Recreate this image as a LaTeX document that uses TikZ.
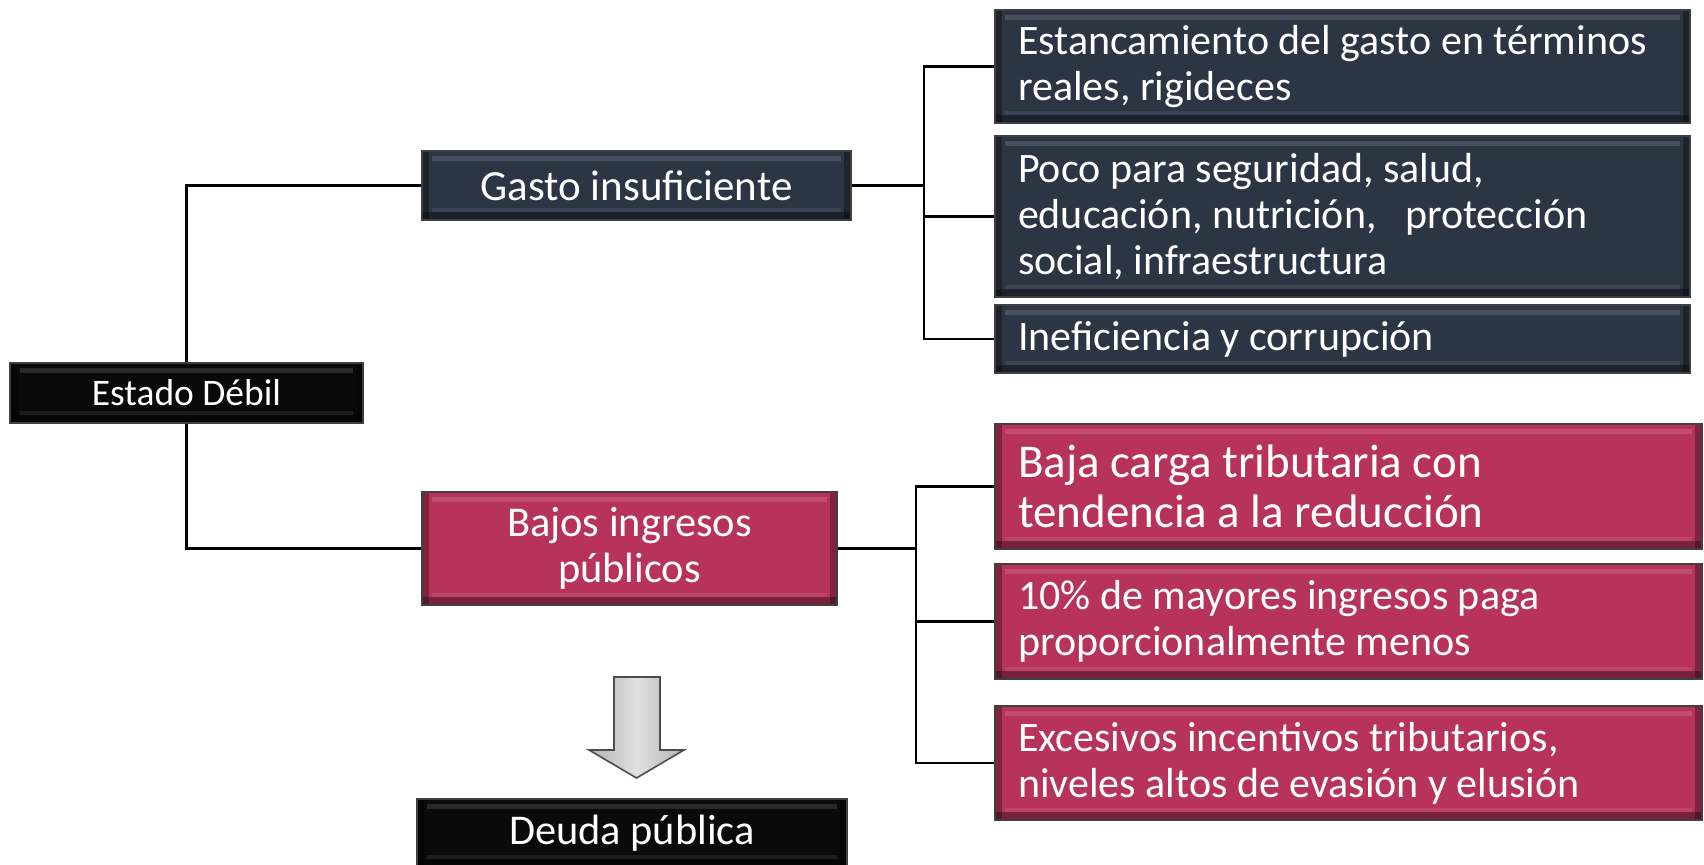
\documentclass[tikz,border=0pt]{standalone}
\usepackage{fontspec}
\setmainfont{Carlito}
\definecolor{navyc}{HTML}{2B3543}
\definecolor{pinkc}{HTML}{B8335B}
\definecolor{blackc}{HTML}{0A0A0A}
\newcommand{\bevelfx}{%
  \fill[white,opacity=0.13] ([shift={(5pt,-2.5pt)}]path picture bounding box.north west) rectangle ([shift={(-5pt,-5pt)}]path picture bounding box.north east);
  \fill[black,opacity=0.35] (path picture bounding box.south west) rectangle ([shift={(0pt,4pt)}]path picture bounding box.south east);
  \fill[black,opacity=0.3] (path picture bounding box.south west) rectangle ([shift={(3.5pt,0pt)}]path picture bounding box.north west);
  \fill[black,opacity=0.3] ([shift={(-3.5pt,0pt)}]path picture bounding box.south east) rectangle (path picture bounding box.north east);
  \fill[white,opacity=0.08] ([shift={(5pt,4pt)}]path picture bounding box.south west) rectangle ([shift={(-5pt,6pt)}]path picture bounding box.south east);
}
\tikzset{
  boxbase/.style={draw=black!75, line width=0.6pt, text=white, inner sep=0pt, path picture={\bevelfx}},
  navybox/.style={boxbase, fill=navyc},
  pinkbox/.style={boxbase, fill=pinkc},
  blackbox/.style={boxbase, fill=blackc},
  rtop/.style={minimum width=347.5pt, text width=324.5pt, inner xsep=11.5pt, align=flush left, font=\fontsize{21}{22.8}\selectfont},
  rbot/.style={minimum width=353.5pt, text width=330.5pt, inner xsep=11.5pt, align=flush left, font=\fontsize{21}{22.8}\selectfont},
  link/.style={draw=black, line width=1.25pt},
  downarrow/.style={draw=black!70, line width=0.8pt, left color=black!30, right color=black!30, middle color=black!12},
}
\begin{document}
\begin{tikzpicture}[x=0.5pt,y=-0.5pt]
\useasboundingbox (0,0) rectangle (1704,864);
\begin{scope}
\clip (0,0) rectangle (1704,864);
% left column
\node[blackbox, minimum width=176.5pt, minimum height=30pt, font=\fontsize{18.75}{22}\selectfont] (estado) at (186.5,393) {Estado Débil};
\node[navybox, minimum width=214.5pt, minimum height=34.5pt, font=\fontsize{21.5}{24}\selectfont] (gasto) at (636.5,185.5) {Gasto insuficiente};
\node[pinkbox, minimum width=207.5pt, minimum height=56.5pt, align=center, font=\fontsize{21.2}{22.8}\selectfont] (bajos) at (629.5,548.5) {Bajos ingresos\\públicos};
\node[blackbox, minimum width=215pt, minimum height=34pt, font=\fontsize{21.2}{24}\selectfont] (deuda) at (632,833) {Deuda pública};
% right column top
\node[navybox, rtop, minimum height=56.5pt] (r1) at (1342.5,66.5) {Estancamiento del gasto en términos\\reales, rigideces};
\node[navybox, rtop, minimum height=80.5pt] (r2) at (1342.5,216.5) {Poco para seguridad, salud,\\educación, nutrición,\ \ \ protección\\social, infraestructura};
\node[navybox, rtop, minimum height=34pt] (r3) at (1342.5,339) {Ineficiencia y corrupción};
% right column bottom
\node[pinkbox, rbot, minimum height=62.5pt, font=\fontsize{23.5}{25}\selectfont] (r4) at (1348.5,486.5) {Baja carga tributaria con\\tendencia a la reducción};
\node[pinkbox, rbot, minimum height=57.5pt] (r5) at (1348.5,621.5) {10\% de mayores ingresos paga\\proporcionalmente menos};
\node[pinkbox, rbot, minimum height=57pt] (r6) at (1348.5,763) {Excesivos incentivos tributarios,\\niveles altos de evasión y elusión};
% bus coordinates
\coordinate (gb) at (924,0);
\coordinate (bb) at (916,0);
% connectors
\draw[link] (estado.north) |- (gasto.west);
\draw[link] (estado.south) |- (bajos.west);
\draw[link] (gasto.east) -- (gasto.east -| gb);
\draw[link] (r1.west) -- (r1.west -| gb) -- (r3.west -| gb) -- (r3.west);
\draw[link] (r2.west) -- (r2.west -| gb);
\draw[link] (bajos.east) -- (bajos.east -| bb);
\draw[link] (r4.west) -- (r4.west -| bb) -- (r6.west -| bb) -- (r6.west);
\draw[link] (r5.west) -- (r5.west -| bb);
% block arrow
\draw[downarrow] (614,677) -- (660,677) -- (660,750) -- (684,750) -- (636.5,778) -- (589,750) -- (614,750) -- cycle;
\end{scope}
\end{tikzpicture}
\end{document}
